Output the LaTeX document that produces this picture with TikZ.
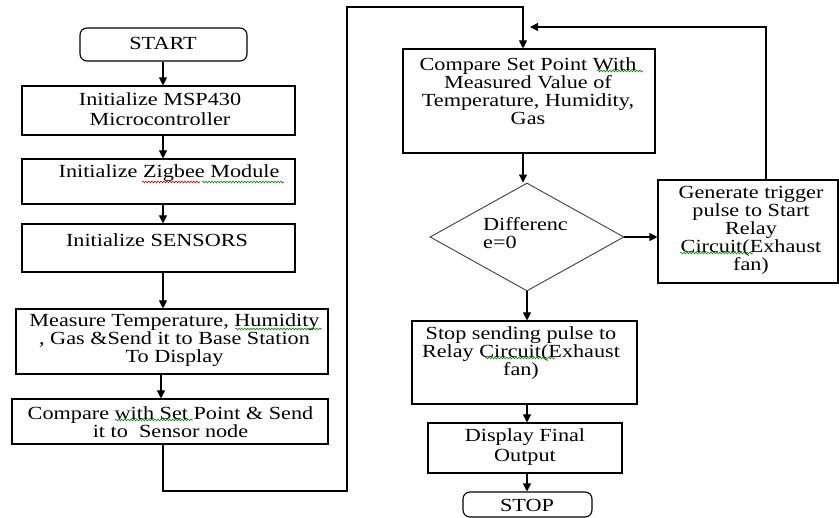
\documentclass[tikz,border=0pt]{standalone}
\usepackage{fontspec}
\setmainfont{Liberation Serif}[FakeStretch=1.2]
\usetikzlibrary{arrows.meta,shapes.geometric,decorations.pathmorphing}
\newcommand{\fsn}{\fontsize{18.5}{18}\selectfont}
\newcommand{\fsw}{\fontsize{18.5}{20.5}\selectfont}
\begin{document}
\begin{tikzpicture}[x=1pt,y=-1pt,
  box/.style={draw, line width=1.1pt, inner sep=0pt},
  term/.style={box, rounded corners=7pt},
  txt/.style={align=center, inner sep=0pt, font=\fsn},
  txtw/.style={align=center, inner sep=0pt, font=\fsw},
  arr/.style={line width=1.1pt, -{Triangle[width=8pt,length=8pt]}},
  sqr/.style={red!80!black, line width=0.6pt, decorate, decoration={snake, amplitude=0.9pt, segment length=3pt}},
  sqg/.style={green!55!black, line width=0.6pt, decorate, decoration={snake, amplitude=0.9pt, segment length=3pt}}]
\useasboundingbox[fill=white] (0,0) rectangle (839,518);

% left column
\node[term, minimum width=167pt, minimum height=33pt] (start) at (163.5,44.5) {};
\node[txt] (tstart) at (163,43) {START};
\node[box, minimum width=273pt, minimum height=49pt] (msp) at (158.5,110.5) {};
\node[txtw] (tmsp) at (160,109) {Initialize MSP430\\Microcontroller};
\node[box, minimum width=273pt, minimum height=45pt] (zig) at (158.5,181.5) {};
\node[txt] (tzig) at (169,173) {Initialize Zigbee Module};
\node[box, minimum width=273pt, minimum height=48pt] (sens) at (158.5,248) {};
\node[txt] (tsens) at (157,240) {Initialize SENSORS};
\node[box, minimum width=312pt, minimum height=65pt] (meas) at (172,341.5) {};
\node[txt] (tmeas) at (174.5,340) {Measure Temperature, Humidity\\, Gas \&Send it to Base Station\\To Display};
\node[box, minimum width=316pt, minimum height=45pt] (cmp) at (170,421.5) {};
\node[txt] (tcmp) at (170.5,422) {Compare with Set Point \& Send\\it to\ \ Sensor node};

% right column
\node[box, minimum width=252pt, minimum height=104pt] (csp) at (529,101) {};
\node[txt] (tcsp) at (528,91) {Compare Set Point With\\Measured Value of\\Temperature, Humidity,\\Gas};
\node[diamond, draw=black!75, line width=0.9pt, minimum width=194pt, minimum height=108pt, inner sep=0pt, aspect=1.8] (dif) at (527,237) {};
\node[txt, align=left, anchor=west] (tdif) at (483,233) {Differenc\\e=0};
\node[box, minimum width=180pt, minimum height=103pt] (gen) at (748,231.5) {};
\node[txt] (tgen) at (751,230) {Generate trigger\\pulse to Start\\Relay\\Circuit(Exhaust\\fan)};
\node[box, minimum width=225pt, minimum height=83pt] (stp) at (524.5,362.5) {};
\node[txt] (tstp) at (521,353) {Stop sending pulse to\\Relay Circuit(Exhaust\\fan)};
\node[box, minimum width=194pt, minimum height=50pt] (disp) at (525,448) {};
\node[txtw] (tdisp) at (525,447) {Display Final\\Output};
\node[term, minimum width=129pt, minimum height=25pt] (stop) at (527.5,504.5) {};
\node[txt] (tstop) at (527,505) {STOP};

% helper coordinates
\coordinate (colx) at (163,0);
\coordinate (l1) at (163,491);
\coordinate (l2) at (347,491);
\coordinate (l3) at (347,7);
\coordinate (l4) at (523,7);
\coordinate (fbt) at (766,27);
\coordinate (fbe) at (530,27);

% connectors
\draw[arr] (start.south -| colx) -- (msp.north -| colx);
\draw[arr] (msp.south -| colx) -- (zig.north -| colx);
\draw[arr] (zig.south -| colx) -- (sens.north -| colx);
\draw[arr] (sens.south -| colx) -- (meas.north -| colx);
\draw[arr] ([xshift=-2pt]meas.south -| colx) -- ([xshift=-2pt]cmp.north -| colx);
\draw[arr] (cmp.south -| l1) -- (l1) -- (l2) -- (l3) -- (l4) -- (csp.north -| l4);
\draw[arr] (csp.south -| l4) -- (dif.north -| l4);
\draw[arr] (dif.east) -- (gen.west |- dif.east);
\draw[arr] (gen.north -| fbt) -- (fbt) -- (fbe);
\draw[arr] (dif.south) -- (stp.north -| dif.south);
\draw[arr] (stp.south -| dif.south) -- (disp.north -| dif.south);
\draw[arr] (disp.south -| dif.south) -- (stop.north -| dif.south);

% spell-check squiggles
\draw[sqr] (142,182) -- (200,182);
\draw[sqg] (202,182) -- (284,182);
\draw[sqg] (235,329) -- (322,329);
\draw[sqg] (115,420) -- (193,420);
\draw[sqg] (597,71) -- (643,71);
\draw[sqg] (680,253) -- (753,253);
\draw[sqg] (485,358) -- (555,358);
\end{tikzpicture}
\end{document}
